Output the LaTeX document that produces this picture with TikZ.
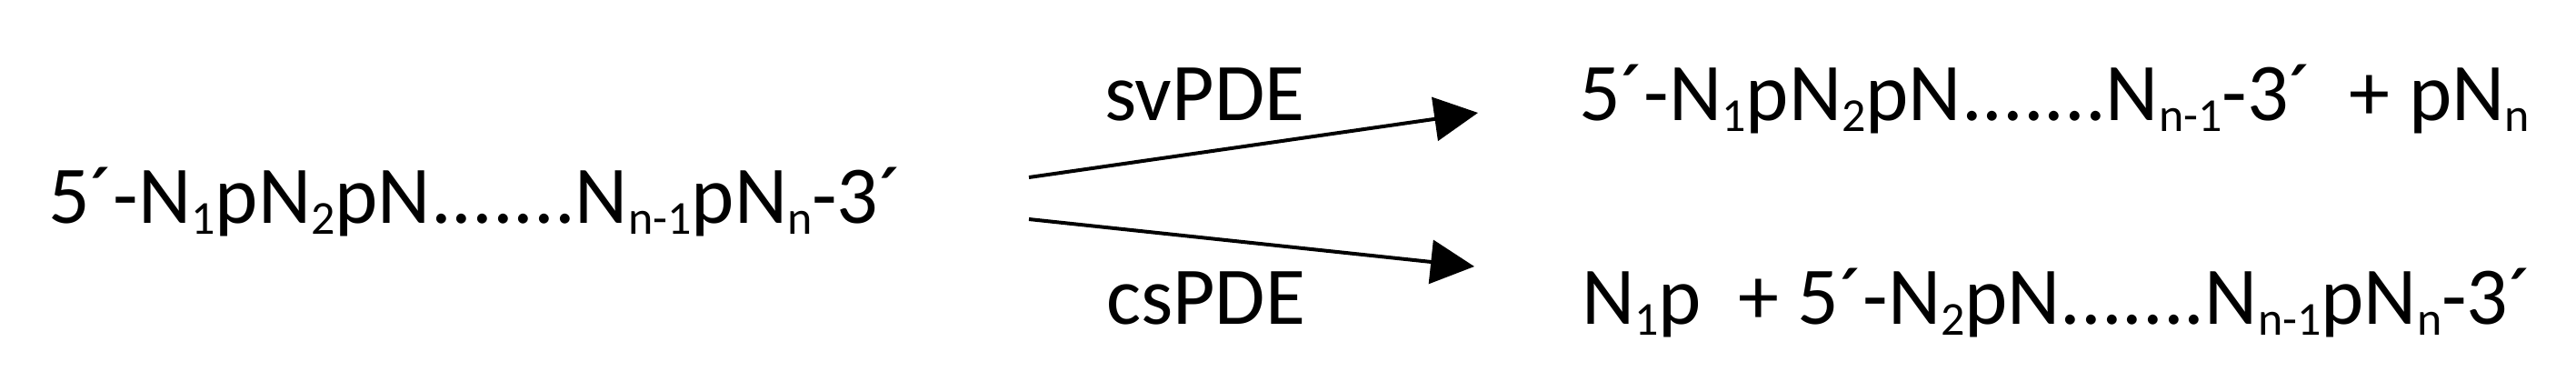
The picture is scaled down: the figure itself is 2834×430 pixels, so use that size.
\documentclass[tikz,border=0pt]{standalone}
\usepackage{fontspec}
\setmainfont{Carlito}
\usetikzlibrary{arrows.meta}
\newcommand{\subx}[1]{\raisebox{-3pt}{\fontsize{13}{15}\selectfont #1}}
\newcommand{\prm}{´}
\tikzset{
  txt/.style={anchor=base west, inner sep=0pt, outer sep=0pt, font=\fontsize{22.5}{27}\selectfont},
  rxn/.style={line width=1pt, -{Triangle[length=12pt,width=12pt]}}
}
\begin{document}
\begin{tikzpicture}[x=0.25pt,y=-0.25pt]
\useasboundingbox (0,0) rectangle (2834,430);
\node[txt] (sub) at (53,245) {5\prm-N\subx{1}pN\subx{2}pN.......N\subx{n-1}pN\subx{n}-3\prm};
\node[txt] (sv) at (1215,132) {svPDE};
\node[txt] (cs) at (1217,356) {csPDE};
\node[txt] (p1) at (1737,132) {5\prm-N\subx{1}pN\subx{2}pN.......N\subx{n-1}-3\prm\ \ + pN\subx{n}};
\node[txt] (p2) at (1740,356) {N\subx{1}p\ \ + 5\prm-N\subx{2}pN.......N\subx{n-1}pN\subx{n}-3\prm};
\coordinate (a1s) at (1132,195);
\coordinate (a1e) at (1626,124);
\coordinate (a2s) at (1132,241);
\coordinate (a2e) at (1622,293);
\draw[rxn] (a1s) -- (a1e);
\draw[rxn] (a2s) -- (a2e);
\end{tikzpicture}
\end{document}
